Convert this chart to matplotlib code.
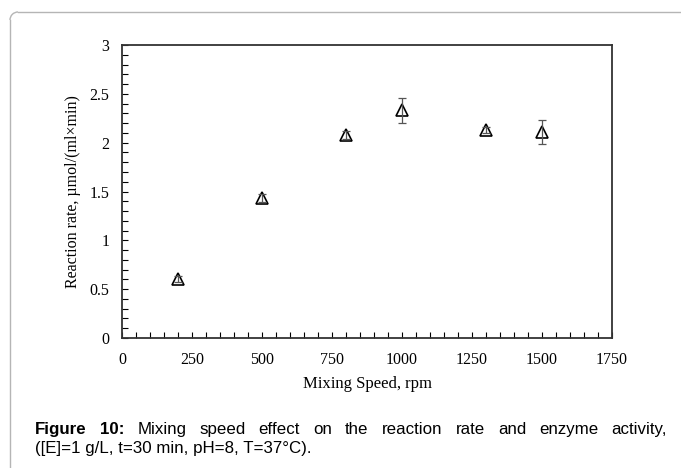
import matplotlib
matplotlib.use("Agg")
import matplotlib.pyplot as plt
import matplotlib.patches as mpatches
from matplotlib.lines import Line2D

speed = [200, 500, 800, 1000, 1300, 1500]
rate = [0.60, 1.43, 2.08, 2.33, 2.13, 2.11]
err = [0.03, 0.04, 0.04, 0.125, 0.03, 0.125]
xticks = [0, 250, 500, 750, 1000, 1250, 1500, 1750]
yticks = [0, 0.5, 1, 1.5, 2, 2.5, 3]
ytick_labels = ["0", "0.5", "1", "1.5", "2", "2.5", "3"]
caption_bold = ["Figure", "10:"]
caption_line1 = ["Mixing", "speed", "effect", "on", "the", "reaction", "rate", "and", "enzyme", "activity,"]
caption_line2 = "([E]=1 g/L, t=30 min, pH=8, T=37°C)."

W, H = 681, 468
fig = plt.figure(figsize=(W / 100, H / 100), dpi=100)

# outer frame (rounded top-left corner, open to right/bottom)
fc = "#b5b5b5"
fig.add_artist(Line2D([10 / W, 10 / W], [1 - 20 / H, 0], color=fc, lw=1.0))
fig.add_artist(Line2D([18 / W, 1.0], [1 - 12 / H, 1 - 12 / H], color=fc, lw=1.0))
fig.add_artist(mpatches.Arc((18 / W, 1 - 20 / H), 16 / W, 16 / H, theta1=90, theta2=180,
                            color=fc, lw=1.0, transform=fig.transFigure))

left, right, top, bottom = 122, 612, 45, 338
ax = fig.add_axes([left / W, 1 - bottom / H, (right - left) / W, (bottom - top) / H])

serif = "Liberation Serif"
ax.plot(speed, rate, linestyle="none", marker="^", markersize=8, markerfacecolor="white",
        markeredgecolor="black", markeredgewidth=1.2, zorder=2)
ax.errorbar(speed, rate, yerr=err, fmt="none", ecolor="#555555", elinewidth=0.9,
            capsize=3, capthick=0.9, zorder=3)

ax.set_xlim(0, 1750)
ax.set_ylim(0, 3)
ax.set_xticks(xticks)
ax.set_xticklabels([str(t) for t in xticks], fontfamily=serif, fontsize=11.5)
ax.set_yticks(yticks)
ax.set_yticklabels(ytick_labels, fontfamily=serif, fontsize=11.5)
ax.set_xticks(range(0, 1751, 50), minor=True)
ax.set_yticks([i / 10 for i in range(31)], minor=True)
ax.tick_params(axis="both", which="both", direction="in", length=4, width=0.8,
               top=False, right=False, colors="black")
ax.tick_params(axis="x", which="major", pad=10)
ax.tick_params(axis="y", which="major", pad=9)
for s in ax.spines.values():
    s.set_linewidth(1.3)
    s.set_color("#333333")

ax.set_xlabel("Mixing Speed, rpm", fontfamily=serif, fontsize=12)
ax.xaxis.set_label_coords(0.5, -(384 - bottom) / (bottom - top), transform=ax.transAxes)
ax.xaxis.label.set_va("center")
ax.set_ylabel("Reaction rate, µmol/(ml×min)", fontfamily=serif, fontsize=11.5)
ax.yaxis.set_label_coords(-(left - 73) / (right - left), 0.5, transform=ax.transAxes)
ax.yaxis.label.set_va("center")

# caption, justified first line
sans = "Liberation Sans"
fs = 12.2
x0, x1 = 35, 667
b1, b2 = 434, 453
renderer = fig.canvas.get_renderer()
items = []
for w in caption_bold:
    items.append(fig.text(0, 0, w, fontfamily=sans, fontweight="bold", fontsize=fs,
                          va="baseline", ha="left"))
for w in caption_line1:
    items.append(fig.text(0, 0, w, fontfamily=sans, fontsize=fs, va="baseline", ha="left"))
widths = [t.get_window_extent(renderer).width for t in items]
gap = (x1 - x0 - sum(widths)) / (len(items) - 1)
x = x0
for t, w in zip(items, widths):
    t.set_position((x / W, 1 - b1 / H))
    x += w + gap
fig.text(x0 / W, 1 - b2 / H, caption_line2, fontfamily=sans, fontsize=fs,
         va="baseline", ha="left")

fig.savefig("out.png", dpi=100)
